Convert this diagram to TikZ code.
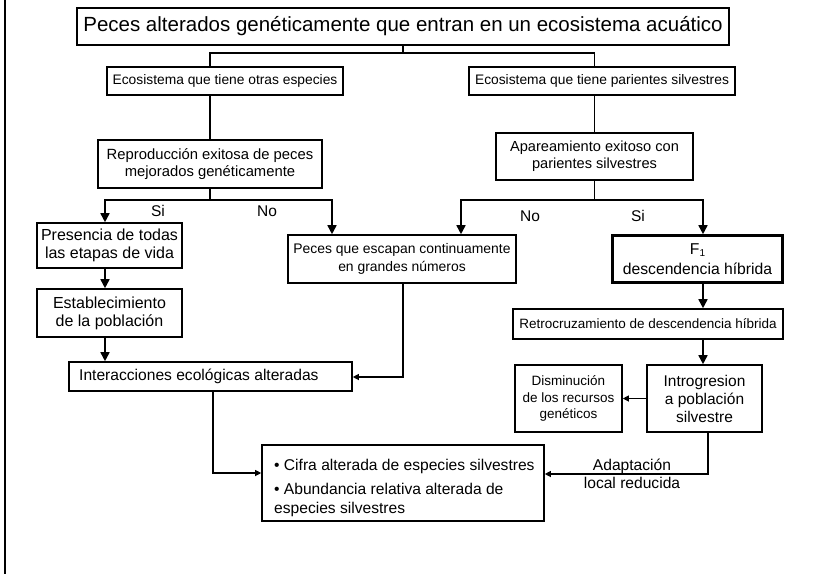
\documentclass[tikz,border=0pt]{standalone}
\usepackage{fontspec}
\setmainfont{Liberation Sans}
\usetikzlibrary{arrows.meta}
\tikzset{
  fs/.style 2 args={font=\fontsize{#1}{#2}\selectfont},
  box/.style={draw, line width=1.6pt, inner sep=0pt, align=center},
  thick box/.style={box, line width=2.6pt},
  ln/.style={line width=1.6pt},
  thinln/.style={line width=1.1pt},
  arr/.style={ln, -{Triangle[width=9pt,length=9pt]}},
  sarr/.style={thinln, -{Triangle[width=6pt,length=6pt]}},
  lbl/.style={inner sep=0pt, align=center}
}
\begin{document}
\begin{tikzpicture}[x=1pt,y=-1pt]
\useasboundingbox (0,0) rectangle (818,574);
\draw[thinln] (5,0) -- (5,574);

\node[box, fs={20.5}{24}, minimum width=652, minimum height=37] (title) at (403,26.5) {Peces alterados genéticamente que entran en un ecosistema acuático};
\node[box, fs={13.8}{16}, minimum width=236, minimum height=28] (eco1) at (225,81) {Ecosistema que tiene otras especies};
\node[box, fs={13.8}{16}, minimum width=266, minimum height=28] (eco2) at (602,81) {Ecosistema que tiene parientes silvestres};
\node[box, fs={14.8}{17}, minimum width=224, minimum height=48] (repro) at (210,164) {Reproducción exitosa de peces\\ mejorados genéticamente};
\node[box, fs={14.6}{17}, minimum width=197, minimum height=47] (apar) at (594.5,156.5) {Apareamiento exitoso con\\ parientes silvestres};
\node[box, fs={16}{18}, minimum width=145, minimum height=45] (pres) at (109.5,245.5) {Presencia de todas\\ las etapas de vida};
\node[box, fs={13.9}{18}, minimum width=228, minimum height=48] (peces) at (402,259) {Peces que escapan continuamente\\ en grandes números};
\node[thick box, fs={15.7}{20}, minimum width=170, minimum height=47] (f1) at (697.5,259) {F{\fontsize{10}{10}\selectfont\raisebox{-2.5pt}{1}}\\ descendencia híbrida};
\node[box, fs={16}{18}, minimum width=145, minimum height=48] (estab) at (109.5,313) {Establecimiento\\ de la población};
\node[box, fs={13.5}{16}, minimum width=270, minimum height=30] (retro) at (648,324) {Retrocruzamiento de descendencia híbrida};
\node[box, minimum width=283, minimum height=29] (inter) at (210.5,376.5) {};
\node[lbl, fs={15.6}{18}, anchor=west] (intertxt) at (79,376.5) {Interacciones ecológicas alteradas};
\node[box, fs={13.5}{16.5}, minimum width=107, minimum height=67] (dism) at (568.5,398.5) {Disminución\\ de los recursos\\ genéticos};
\node[box, fs={15.5}{18}, minimum width=115, minimum height=67] (intro) at (704.5,398.5) {Introgresion\\ a población\\ silvestre};
\node[box, minimum width=282, minimum height=76] (cifra) at (403,483) {};
\node[lbl, fs={15.6}{19}, anchor=north west, align=left] (cifratxt) at (274,459) {\textbullet\ Cifra alterada de especies silvestres\\[5pt] \textbullet\ Abundancia relativa alterada de\\ especies silvestres};

% junctions
\coordinate (j1) at (403,53);
\coordinate (j2) at (210,200);
\coordinate (j3) at (594.5,200);
\coordinate (pa) at (105,200);
\coordinate (pb) at (332,200);
\coordinate (qa) at (461,200);
\coordinate (qb) at (703,200);
\coordinate (k1) at (403,377);
\coordinate (k2) at (213,473);
\coordinate (k3) at (708,474);

\draw[ln] (title.south) -- (j1);
\draw[ln] (eco1.north -| repro.north) |- (j1) -| (eco2.north -| apar.north);
\draw[ln] (eco1.south -| repro.north) -- (repro.north);
\draw[ln] (eco2.south -| apar.north) -- (apar.north);

\draw[ln] (repro.south) -- (j2);
\draw[arr] (j2) -| (pres.north -| pa);
\draw[arr] (j2) -| (peces.north -| pb);
\draw[ln] (apar.south) -- (j3);
\draw[arr] (j3) -| (peces.north -| qa);
\draw[arr] (j3) -| (f1.north -| qb);

\draw[arr] (pres.south -| pa) -- (estab.north -| pa);
\draw[arr] (estab.south -| pa) -- (inter.north -| pa);
\draw[arr] (f1.south -| qb) -- (retro.north -| qb);
\draw[arr] (retro.south -| qb) -- (intro.north -| qb);

\draw[sarr] (peces.south -| k1) |- (inter.east |- k1);
\draw[sarr] (inter.south -| k2) |- (cifra.west |- k2);
\draw[sarr] (intro.west) -- (dism.east);
\draw[sarr] (intro.south -| k3) |- (cifra.east |- k3);

\node[lbl, fs={15.5}{18}] (si1) at (158,211) {Si};
\node[lbl, fs={15.5}{18}] (no1) at (267,211) {No};
\node[lbl, fs={15.5}{18}] (no2) at (530,216) {No};
\node[lbl, fs={15.5}{18}] (si2) at (638,216) {Si};
\node[lbl, fs={15.6}{18}] (adapt) at (632,474) {Adaptación\\ local reducida};
\end{tikzpicture}
\end{document}
